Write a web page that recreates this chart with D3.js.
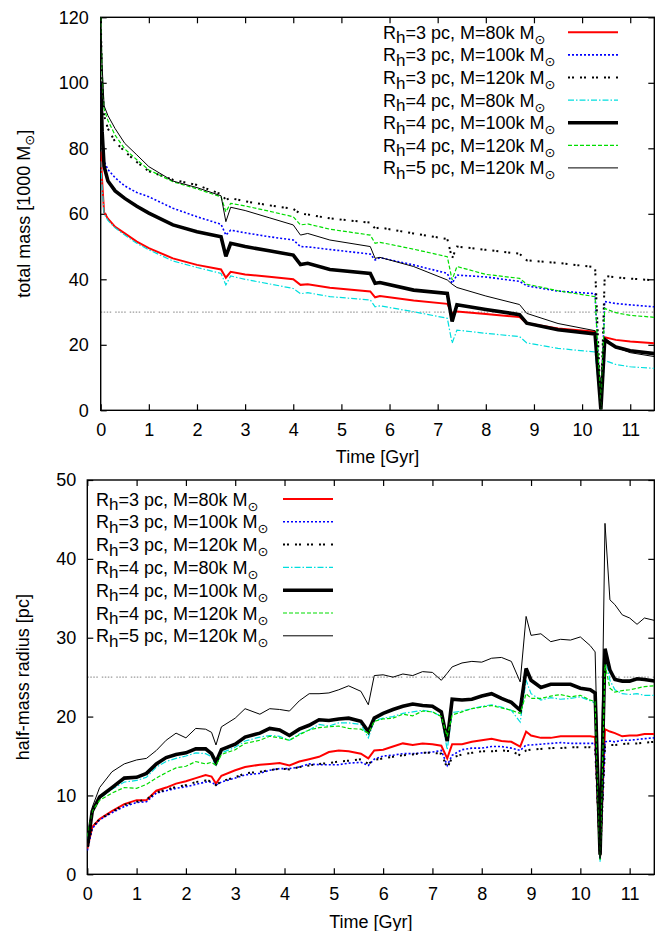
<!DOCTYPE html>
<html><head><meta charset="utf-8">
<script src="https://cdn.jsdelivr.net/npm/d3@7"></script>
<style>
body{margin:0;background:#fff}
svg text{font-family:"Liberation Sans",Arial,Helvetica,sans-serif;fill:#000}
</style>
</head><body>
<svg id="chart" width="660" height="931"></svg>
<script>
// ---------- DATA ----------
const xTickValues = [0,1,2,3,4,5,6,7,8,9,10,11];
const massTickValues = [0,20,40,60,80,100,120];
const radiusTickValues = [0,10,20,30,40,50];

const legendRh = [3,3,3,4,4,4,5];
const legendMass = ["80k","100k","120k","80k","100k","120k","120k"];

// top panel: total mass [1000 Msun]
const timeTop = [0,0.03,0.07,0.15,0.3,0.5,0.75,1.0,1.5,2.0,2.5,2.6,2.7,3.0,3.5,4.0,4.15,4.3,4.76,5.6,5.7,5.8,6.5,7.2,7.3,7.4,8.0,8.7,8.85,9.5,10.27,10.39,10.47,10.7,11.0,11.5];
const massR3M80  = [79,70,60.5,58.5,56,54,51.5,49.5,46.4,44.4,43,40.5,42.3,41.5,40.8,40,38.3,38.5,37.4,36.3,34.5,34.9,33.5,32.5,29.6,30.2,29.4,28.5,26.6,25.0,24,0.3,22.3,21.5,21.0,20.5];
const massR3M100 = [100,86,76,73.5,71,68.5,66.5,65.2,61.7,59.1,56.8,53.5,55,54.2,53,52,50,49.9,49.1,47.7,45.9,46.6,44.4,41.8,38.8,41.3,40.7,39.4,38.0,36.4,35.6,0.3,33.2,32.6,32.2,31.6];
const massR3M120 = [120,100,90,86,82,79,75.8,73,70.4,68.8,66,64.3,64.8,63.8,62.6,61.5,60,59.8,58.6,57.3,55.5,55.8,54.0,52.3,46.4,50,49.0,47.8,45.8,45.0,43.7,0.3,41.0,40.6,40.2,39.7];
const massR4M80  = [76,68,60,58,55.7,53.5,51,49,45.6,43.6,41.8,38.3,41,40,38.6,37.2,35.6,35.9,34.7,33.7,31.6,31.9,30.1,28.1,20.5,24.5,23.5,22.5,20.6,18.9,17.8,0.3,15.2,14.0,13.3,12.8];
const massR4M100 = [100,85,74.5,70,67,64.7,62.3,60.2,56.6,54.5,53,47,51,50,48.7,47.4,44.5,44.9,43,41.8,38.8,39,36.7,35.7,27.1,32.2,30.8,29.2,26.6,24.6,23.3,0.3,21.5,19.3,18.2,17.3];
const massR4M120 = [120,103,92,88.5,84,79.8,76.5,73.4,69.8,67.6,65.2,60.6,63.2,62.4,60.8,59.1,56.6,56.9,55.3,53.5,51,51.3,49.2,46.9,39.8,43.9,41.5,40.3,38.5,36.5,34.7,0.3,31.1,29.8,29.0,28.4];
const massR5M120 = [120,105,93,90,86,81.5,78,74.4,70,68,65.5,57.6,62,61,58.8,56.6,53.5,54,52,50,46.4,46.7,43.9,39.8,38.5,37.5,34.9,32.3,29.6,26.5,24.3,0.3,22.2,19.2,17.6,16.4];
const massRefLine = 30;

// bottom panel: half-mass radius [pc]
const timeBottom = [0,0.1,0.25,0.5,0.75,1.0,1.2,1.4,1.6,1.8,2.0,2.2,2.4,2.52,2.61,2.72,3.0,3.2,3.5,3.7,3.9,4.1,4.3,4.5,4.7,4.9,5.1,5.3,5.55,5.7,5.82,6.0,6.2,6.4,6.6,6.8,7.0,7.18,7.3,7.4,7.6,7.8,8.0,8.2,8.4,8.6,8.78,8.9,9.0,9.2,9.4,9.6,9.8,10.0,10.2,10.3,10.4,10.5,10.6,10.7,10.85,11.0,11.15,11.3,11.5];
const radR3M80  = [3.2,6.0,7.0,8.0,8.9,9.4,9.4,10.6,11.0,11.5,11.8,12.2,12.6,12.4,11.5,12.5,13.2,13.6,13.9,14.0,14.1,13.8,14.3,14.6,14.9,15.5,15.7,15.6,15.3,14.7,15.7,15.8,16.2,16.6,16.4,16.6,16.5,16.3,14.7,16.5,16.5,16.8,17.0,17.2,16.9,16.8,16.2,18.1,17.6,17.3,17.3,17.5,17.5,17.5,17.5,17.4,2.2,18.4,18.1,17.9,17.5,17.6,17.6,17.8,17.8];
const radR3M100 = [3.0,5.8,6.9,7.8,8.6,9.1,9.2,10.3,10.6,10.9,11.1,11.4,11.7,11.7,11.3,11.7,12.2,12.6,12.8,13.2,13.4,13.4,13.6,14.0,13.9,13.9,13.9,14.1,14.2,13.8,14.6,15.0,15.1,15.3,15.3,15.4,15.5,15.7,13.8,15.1,15.8,16.0,16.0,16.2,16.2,16.0,15.7,16.4,16.4,16.5,16.6,16.7,16.6,16.6,16.6,16.6,2.0,16.8,16.9,16.8,17.0,17.0,17.1,17.2,17.3];
const radR3M120 = [3.5,6.0,7.0,7.9,8.8,9.2,9.5,10.4,10.7,11.1,11.3,11.7,11.9,11.8,11.3,11.8,12.3,12.8,13.0,13.2,13.4,13.3,13.6,13.8,14.0,14.1,14.3,14.4,14.6,14.0,14.5,14.7,14.9,15.1,15.2,15.4,15.4,15.3,13.5,14.8,15.2,15.4,15.6,15.6,15.7,15.6,15.1,15.7,15.8,15.9,16.0,16.0,16.1,16.1,16.1,16.0,2.0,16.2,16.4,16.4,16.5,16.6,16.6,16.7,16.8];
const radR4M80  = [4.5,8.3,9.6,10.8,11.7,11.9,12.3,13.6,14.3,14.7,15.0,15.4,15.3,14.9,13.7,15.4,16.1,16.9,17.4,17.6,17.5,17.0,17.8,18.3,19.0,18.8,19.2,19.2,19.0,17.3,19.5,19.8,20.0,20.4,20.6,20.8,20.6,20.0,15.8,20.5,20.7,21.0,21.3,21.5,21.2,20.8,19.3,24.6,22.9,22.1,22.4,22.2,22.3,22.5,22.0,21.7,1.6,27.9,24.6,23.4,22.9,22.8,22.9,22.7,22.7];
const radR4M100 = [3.5,8.0,9.8,11.0,12.2,12.3,12.8,14.0,14.8,15.2,15.4,15.9,15.9,15.3,14.2,15.8,16.5,17.4,17.9,18.5,18.3,17.6,18.4,18.9,19.6,19.5,19.7,19.8,19.4,18.1,19.8,20.4,20.9,21.3,21.6,21.4,21.3,20.6,16.9,22.2,22.1,22.2,22.6,22.9,22.3,21.8,20.8,26.1,24.6,23.7,24.1,24.1,24.1,23.6,23.4,23.0,2.5,28.6,25.9,24.7,24.5,24.5,24.8,24.7,24.5];
const radR4M120 = [4.8,8.0,9.4,10.3,11.0,10.9,11.4,12.2,12.9,13.5,13.7,14.3,14.0,14.2,13.8,15.2,15.8,16.6,17.0,17.5,17.3,17.0,17.7,18.3,18.6,18.7,18.8,18.5,18.4,17.9,19.4,19.7,19.8,20.3,20.1,20.7,20.6,20.0,17.5,20.2,20.6,21.0,21.2,21.4,21.1,20.8,20.4,22.9,22.3,22.3,22.6,22.8,22.5,22.7,22.1,21.9,1.8,26.6,23.6,23.1,23.3,23.4,23.6,23.8,23.9];
const radR5M120 = [4.0,8.5,11.0,13.0,14.0,14.5,14.7,15.7,17.0,17.9,17.3,18.5,18.4,18.0,16.4,18.7,19.8,21.0,20.3,21.0,20.9,20.7,22.0,22.9,22.9,23.0,23.4,23.9,23.2,21.5,25.2,25.3,25.0,25.4,25.2,25.7,25.6,24.6,25.5,26.3,26.8,27.0,26.9,27.4,27.5,27.0,24.4,32.7,30.3,30.5,29.5,29.8,29.7,30.1,29.0,28.2,2.0,44.5,34.8,34.2,32.9,32.5,31.7,32.5,32.2];
const radiusRefLine = 25;

// ---------- STYLES ----------
const styles = [
  {color:"#ff0000", width:2,   dash:null},
  {color:"#0000ff", width:1.6, dash:"2,2"},
  {color:"#000000", width:2,   dash:"2,2,2,6"},
  {color:"#00dede", width:1.2, dash:"6,2,1.5,2"},
  {color:"#000000", width:3.6, dash:null},
  {color:"#00dd00", width:1.2, dash:"4,2"},
  {color:"#000000", width:1,   dash:null}
];

const svg = d3.select("#chart");
const FS = 18;

function drawPanel(cfg) {
  const {left,right,top,bottom,yMax,yTicks,time,series,refLine,yLabel,yLabelMass,
         legendTextX,legendLineX0,legendLineX1,legendY0,legendDY,id,xLabelY,yLabelX,yPad} = cfg;
  const x = d3.scaleLinear().domain([0,11.5]).range([left,right]);
  const y = d3.scaleLinear().domain([0,yMax]).range([bottom,top]);
  const g = svg.append("g");

  g.append("clipPath").attr("id",id).append("rect")
    .attr("x",left).attr("y",top).attr("width",right-left).attr("height",bottom-top);

  // reference line
  g.append("line").attr("x1",left).attr("x2",right)
    .attr("y1",y(refLine)).attr("y2",y(refLine))
    .attr("stroke","#999").attr("stroke-width",1.3).attr("stroke-dasharray","1.5,1.5,1.5,1.5,1.5,1.5,1.5,4");

  // axes
  const fmt = d3.format("d");
  const ax = [
    g.append("g").attr("transform",`translate(0,${bottom})`)
      .call(d3.axisBottom(x).tickValues(xTickValues).tickSize(-6).tickPadding(13).tickFormat(fmt)),
    g.append("g").attr("transform",`translate(0,${top})`)
      .call(d3.axisTop(x).tickValues(xTickValues).tickSize(-6).tickFormat("")),
    g.append("g").attr("transform",`translate(${left},0)`)
      .call(d3.axisLeft(y).tickValues(yTicks).tickSize(-6).tickPadding(yPad).tickFormat(fmt)),
    g.append("g").attr("transform",`translate(${right},0)`)
      .call(d3.axisRight(y).tickValues(yTicks).tickSize(-6).tickFormat(""))
  ];
  ax.forEach(a=>{
    a.select(".domain").remove();
    a.selectAll(".tick line").attr("stroke","#000").attr("stroke-width",1.2);
    a.selectAll(".tick text").attr("font-size",FS).attr("font-family","Liberation Sans, Arial, sans-serif");
  });
  // frame
  g.append("rect").attr("x",left).attr("y",top).attr("width",right-left).attr("height",bottom-top)
    .attr("fill","none").attr("stroke","#000").attr("stroke-width",1.4);

  // series
  const line = d3.line().x((d,i)=>x(time[i])).y(d=>y(d));
  const lg = g.append("g").attr("clip-path",`url(#${id})`);
  series.forEach((s,i)=>{
    const st = styles[i];
    lg.append("path").datum(s).attr("d",line).attr("fill","none")
      .attr("stroke",st.color).attr("stroke-width",st.width)
      .attr("stroke-dasharray",st.dash).attr("stroke-linejoin","miter").attr("stroke-miterlimit",3);
  });

  // legend
  series.forEach((s,i)=>{
    const st = styles[i];
    const ly = legendY0 + i*legendDY;
    const t = g.append("text").attr("x",legendTextX).attr("y",ly+6.5).attr("font-size",FS);
    t.append("tspan").text("R");
    t.append("tspan").attr("dy",4.5).attr("font-size",17).text("h");
    t.append("tspan").attr("dy",-4.5).text(`=${legendRh[i]} pc, M=${legendMass[i]} M`);
    t.append("tspan").attr("dy",5).attr("font-size",13).attr("font-family","DejaVu Sans").text("\u2299");
    g.append("line").attr("x1",legendLineX0).attr("x2",legendLineX1).attr("y1",ly).attr("y2",ly)
      .attr("stroke",st.color).attr("stroke-width",st.width).attr("stroke-dasharray",st.dash);
  });

  // x label
  g.append("text").attr("x",(left+right)/2).attr("y",xLabelY).attr("text-anchor","middle")
    .attr("font-size",FS).text("Time [Gyr]");
  // y label
  const yl = g.append("text").attr("transform",`translate(${yLabelX},${(top+bottom)/2}) rotate(-90)`)
    .attr("text-anchor","middle").attr("font-size",FS);
  yl.append("tspan").text(yLabel);
  if (yLabelMass) {
    yl.append("tspan").text(" M");
    yl.append("tspan").attr("dy",4).attr("font-size",13).attr("font-family","DejaVu Sans").text("\u2299");
    yl.append("tspan").attr("dy",-4).text("]");
  }
}

drawPanel({
  id:"clipTop", left:100.7, right:654.3, top:17.3, bottom:410.3, yMax:120, yTicks:massTickValues,
  time:timeTop, series:[massR3M80,massR3M100,massR3M120,massR4M80,massR4M100,massR4M120,massR5M120],
  refLine:massRefLine, yLabel:"total mass [1000", yLabelMass:true,
  legendTextX:383, legendLineX0:568, legendLineX1:618, legendY0:32.3, legendDY:22.6,
  xLabelY:463, yLabelX:30, yPad:12
});
drawPanel({
  id:"clipBottom", left:87.3, right:654.3, top:480, bottom:874.3, yMax:50, yTicks:radiusTickValues,
  time:timeBottom, series:[radR3M80,radR3M100,radR3M120,radR4M80,radR4M100,radR4M120,radR5M120],
  refLine:radiusRefLine, yLabel:"half-mass radius [pc]", yLabelMass:false,
  legendTextX:96, legendLineX0:283, legendLineX1:333, legendY0:499, legendDY:22.8,
  xLabelY:928, yLabelX:29, yPad:11
});
</script>
</body></html>
